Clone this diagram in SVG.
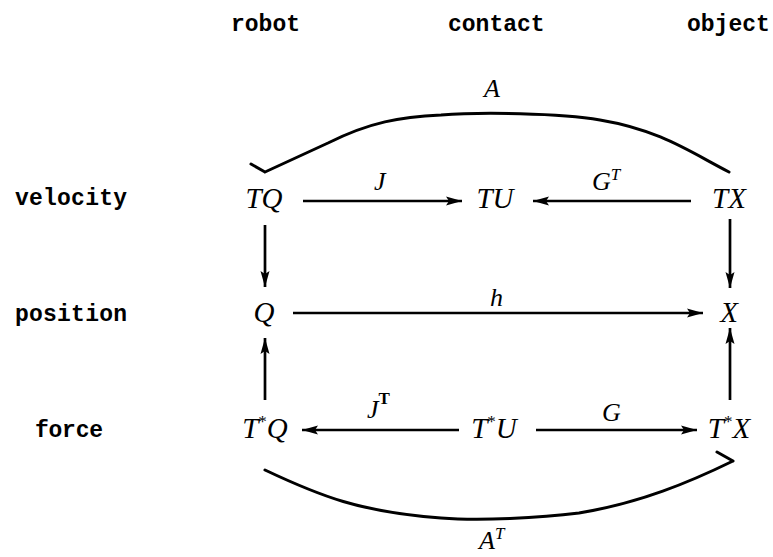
<svg xmlns="http://www.w3.org/2000/svg" width="773" height="557" viewBox="0 0 773 557">
<defs>
<style>
.tt{font-family:"Liberation Mono","DejaVu Sans Mono",monospace;font-weight:bold;font-size:23px;fill:#000}
.m{font-family:"Liberation Serif","DejaVu Serif",serif;font-style:italic;font-size:29px;fill:#000;text-anchor:middle}
.lab{font-family:"Liberation Serif","DejaVu Serif",serif;font-style:italic;font-size:26px;fill:#000}
.sup{font-size:17px}
.ln{stroke:#000;stroke-width:2.7;fill:none}
.cv{stroke:#000;stroke-width:3;fill:none;stroke-linecap:round;stroke-linejoin:round}
</style>
<marker id="ah" markerUnits="userSpaceOnUse" markerWidth="18" markerHeight="12" refX="16" refY="6" orient="auto">
<path d="M0,1.5 L16,6 L0,10.5 L3,6 z" fill="#000"/>
</marker>
</defs>
<rect width="773" height="557" fill="#fff"/>

<g id="headers">
<text class="tt" x="231" y="31">robot</text>
<text class="tt" x="448" y="31">contact</text>
<text class="tt" x="687" y="31">object</text>
</g>
<g id="rows">
<text class="tt" x="15" y="205" textLength="112">velocity</text>
<text class="tt" x="15" y="321" textLength="112">position</text>
<text class="tt" x="35" y="437" textLength="68">force</text>
</g>

<g id="connectors">
<line class="ln" x1="303" y1="201" x2="462" y2="201" marker-end="url(#ah)"/>
<line class="ln" x1="691" y1="201" x2="533" y2="201" marker-end="url(#ah)"/>
<line class="ln" x1="265" y1="225" x2="265" y2="287" marker-end="url(#ah)"/>
<line class="ln" x1="730" y1="219" x2="730" y2="288" marker-end="url(#ah)"/>
<line class="ln" x1="293" y1="313" x2="703" y2="313" marker-end="url(#ah)"/>
<line class="ln" x1="265" y1="400" x2="265" y2="338" marker-end="url(#ah)"/>
<line class="ln" x1="730" y1="400" x2="730" y2="328" marker-end="url(#ah)"/>
<line class="ln" x1="459" y1="430" x2="302" y2="430" marker-end="url(#ah)"/>
<line class="ln" x1="536" y1="430" x2="697" y2="430" marker-end="url(#ah)"/>
<path id="curveA" class="cv" d="M729,172 C690,152 660,130 600,120 C560,113 480,112 441,115 C400,117 370,122 328,143 L265,172 M265,172 L251,164"/>
<path id="curveAT" class="cv" d="M265,470 C320,496 360,512 441,518 C480,521 540,518 579,513 C640,503 690,482 733,461 M733,461 L717,452"/>
</g>

<g id="labels">
<text class="lab" x="374" y="190">J</text>
<text class="lab" x="592" y="190">G<tspan class="sup" dy="-10">T</tspan></text>
<text class="lab" x="484" y="97" font-size="28">A</text>
<text class="lab" x="490" y="306">h</text>
<text class="lab" x="367" y="418">J<tspan class="sup" dy="-14" font-style="normal" font-weight="bold">T</tspan></text>
<text class="lab" x="602" y="421">G</text>
<text class="lab" x="479" y="549" font-size="28">A<tspan class="sup" dy="-10">T</tspan></text>
</g>

<g id="node-TQ"><text class="m" x="264" y="208">TQ</text></g>
<g id="node-TU"><text class="m" x="495" y="208">TU</text></g>
<g id="node-TX"><text class="m" x="729" y="208">TX</text></g>
<g id="node-Q"><text class="m" x="264" y="322">Q</text></g>
<g id="node-X"><text class="m" x="729" y="322">X</text></g>
<g id="node-TsQ"><text class="m" x="265" y="438">T<tspan class="sup" dy="-11" font-style="normal">*</tspan><tspan dy="11">Q</tspan></text></g>
<g id="node-TsU"><text class="m" x="494" y="438">T<tspan class="sup" dy="-11" font-style="normal">*</tspan><tspan dy="11">U</tspan></text></g>
<g id="node-TsX"><text class="m" x="729" y="438">T<tspan class="sup" dy="-11" font-style="normal">*</tspan><tspan dy="11">X</tspan></text></g>
</svg>
